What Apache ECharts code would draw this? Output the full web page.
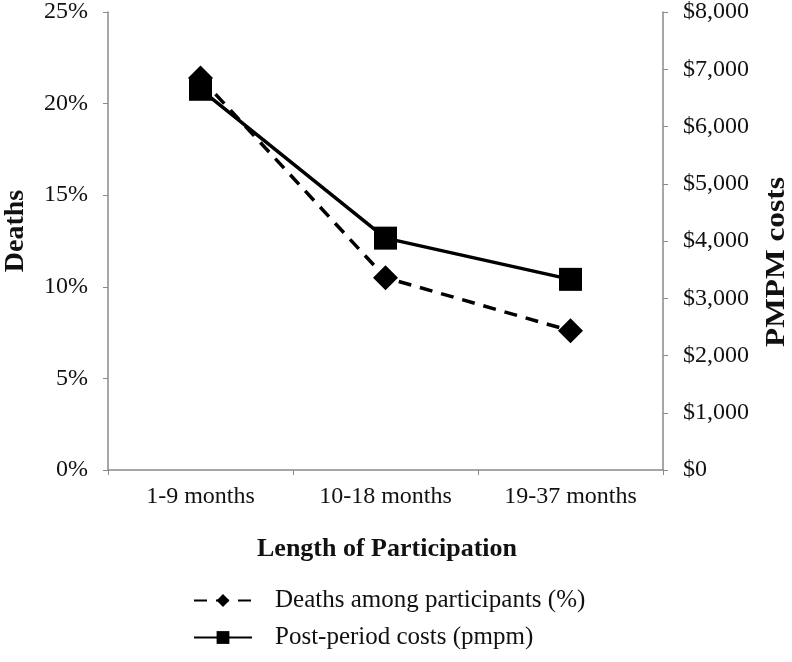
<!DOCTYPE html>
<html>
<head>
<meta charset="utf-8">
<script src="https://cdn.jsdelivr.net/npm/echarts@6/dist/echarts.min.js"></script>
<style>html,body{margin:0;padding:0;background:#fff;}#c{width:792px;height:662px;}</style>
</head>
<body>
<div id="c"></div>
<script>
var categories = ['1-9 months', '10-18 months', '19-37 months'];
var deaths = [21.4, 10.5, 7.6];
var costs = [6650, 4050, 3330];
var leftTicks = [0, 5, 10, 15, 20, 25];
var rightTicks = [0, 1000, 2000, 3000, 4000, 5000, 6000, 7000, 8000];

var FONT = '"Liberation Serif", "Times New Roman", serif';
var chart = echarts.init(document.getElementById('c'));
chart.setOption({
  backgroundColor: '#fff',
  animation: false,
  grid: { left: 108, right: 129, top: 12, bottom: 192 },
  legend: {
    orient: 'vertical', left: 188, top: 583, itemGap: 12,
    itemWidth: 58, itemHeight: 16,
    textStyle: { fontFamily: FONT, fontSize: 25, color: '#111', padding: [0, 0, 0, 18] },
    data: ['Deaths among participants (%)', 'Post-period costs (pmpm)']
  },
  xAxis: {
    type: 'category', data: categories, boundaryGap: true,
    axisLine: { lineStyle: { color: '#8a8a8a', width: 1.5 } },
    axisTick: { show: true, length: 5, lineStyle: { color: '#8a8a8a' } },
    axisLabel: { fontFamily: FONT, fontSize: 24, color: '#111', margin: 15 }
  },
  yAxis: [{
    type: 'value', min: 0, max: 25, interval: 5,
    axisLine: { show: true, lineStyle: { color: '#8a8a8a', width: 1.5 } },
    axisTick: { show: true, length: 5, lineStyle: { color: '#8a8a8a' } },
    splitLine: { show: false },
    axisLabel: { fontFamily: FONT, fontSize: 24, color: '#111', margin: 20, formatter: '{value}%' }
  }, {
    type: 'value', min: 0, max: 8000, interval: 1000, position: 'right',
    axisLine: { show: true, lineStyle: { color: '#8a8a8a', width: 1.5 } },
    axisTick: { show: true, length: 5, lineStyle: { color: '#8a8a8a' } },
    splitLine: { show: false },
    axisLabel: { fontFamily: FONT, fontSize: 24, color: '#111', margin: 20,
      formatter: function (v) { return '$' + v.toLocaleString('en-US'); } }
  }],
  graphic: [
    { type: 'text', x: 16, y: 231, rotation: Math.PI / 2,
      style: { text: 'Deaths', font: 'bold 28px ' + FONT, fill: '#111', align: 'center', verticalAlign: 'middle' } },
    { type: 'text', x: 777, y: 262, rotation: Math.PI / 2, scaleX: 1.12,
      style: { text: 'PMPM costs', font: 'bold 28px ' + FONT, fill: '#111', align: 'center', verticalAlign: 'middle' } },
    { type: 'text', x: 387, y: 549,
      style: { text: 'Length of Participation', font: 'bold 26px ' + FONT, fill: '#111', align: 'center', verticalAlign: 'middle' } }
  ],
  series: [{
    name: 'Deaths among participants (%)', type: 'line', data: deaths, yAxisIndex: 0,
    symbol: 'diamond', symbolSize: 25,
    lineStyle: { color: '#000', width: 3.5, type: [13, 9] },
    itemStyle: { color: '#000' }
  }, {
    name: 'Post-period costs (pmpm)', type: 'line', data: costs, yAxisIndex: 1,
    symbol: 'rect', symbolSize: 23,
    lineStyle: { color: '#000', width: 3.5 },
    itemStyle: { color: '#000' }
  }]
});
</script>
</body>
</html>
